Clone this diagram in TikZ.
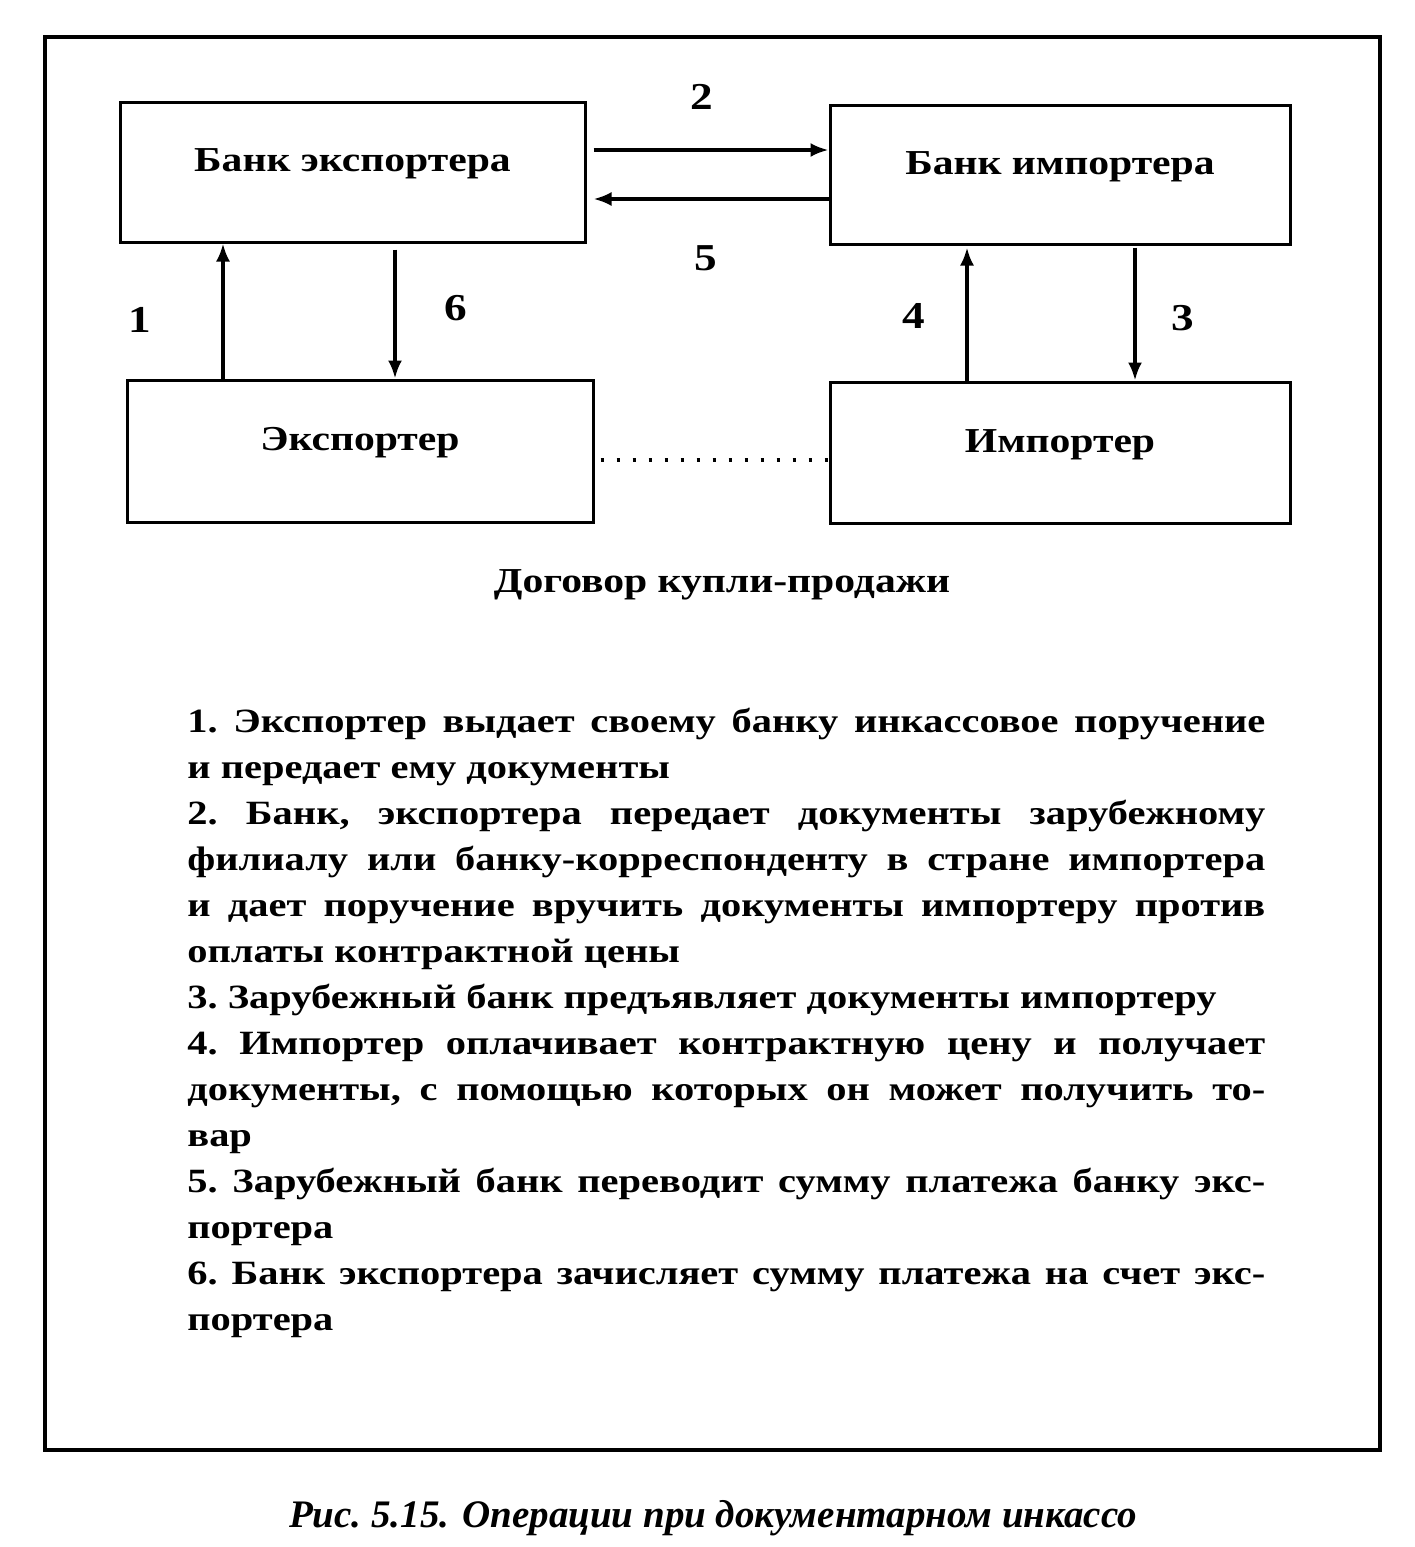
\documentclass[tikz,border=0pt]{standalone}
\usepackage{fontspec}
\setmainfont{Liberation Serif}[FakeStretch=1.19]
\newfontfamily\capfont{Liberation Serif}
\usetikzlibrary{arrows.meta,calc}
\begin{document}
\begin{tikzpicture}[x=0.5pt,y=-0.5pt,
  box/.style={draw, line width=1.5pt, inner sep=0pt},
  lbl/.style={inner sep=0pt, font=\bfseries\fontsize{17.5}{21}\selectfont},
  num/.style={font=\bfseries\fontsize{19}{23}\selectfont},
  arr/.style={line width=1.7pt, -{Latex[length=9pt,width=7pt]}},
  dots/.style={line width=1.6pt, dash pattern=on 1.6pt off 6.4pt}]
\useasboundingbox (0,0) rectangle (1414,1547);
\draw[line width=1.6pt] (45,37) rectangle (1380,1450);
\node[box, minimum width=232.5pt, minimum height=70pt] (be) at (352.5,172) {};
\node[box, minimum width=230pt, minimum height=69.5pt] (bi) at (1060,174.5) {};
\node[box, minimum width=233pt, minimum height=71pt] (ex) at (360,451) {};
\node[box, minimum width=230pt, minimum height=70.5pt] (im) at (1060,452.5) {};
\node[lbl] (lbe) at ([yshift=4pt]be.center) {Банк экспортера};
\node[lbl] (lbi) at ([yshift=4pt]bi.center) {Банк импортера};
\node[lbl] (lex) at ([yshift=4pt]ex.center) {Экспортер};
\node[lbl] (lim) at ([yshift=4pt]im.center) {Импортер};
\draw[arr] ($(be.east|-0,150)+(7,0)$) -- (bi.west|-0,150);
\draw[arr] (bi.west|-0,199) -- ($(be.east|-0,199)+(7,0)$);
\draw[arr] (ex.north-|223,0) -- (be.south-|223,0);
\draw[arr] ($(be.south-|395,0)+(0,6)$) -- (ex.north-|395,0);
\draw[arr] (im.north-|967,0) -- ($(bi.south-|967,0)+(0,2)$);
\draw[arr] ($(bi.south-|1135,0)+(0,2)$) -- (im.north-|1135,0);
\draw[dots] ($(ex.east|-0,460)+(6,0)$) -- (im.west|-0,460);
\node[num] (n2) at (702,97) {2};
\node[num] (n5) at (706,258) {5};
\node[num] (n1) at (140,320) {1};
\node[num] (n6) at (456,308) {6};
\node[num] (n4) at (914,316) {4};
\node[num] (n3) at (1183,318) {3};
\node[font=\bfseries\fontsize{17.5}{21}\selectfont] (dg) at (722,585) {Договор купли-продажи};
\node[anchor=north west, inner sep=0pt, text width=539pt, align=justify,
  font=\bfseries\fontsize{17}{23}\selectfont] (txt) at (187,708) {%
\frenchspacing\setlength{\parskip}{0pt}\setlength{\parindent}{0pt}%
1. Экспортер выдает своему банку инкассовое поручение\linebreak и передает ему документы\par
2. Банк, экспортера передает документы зарубежному\linebreak филиалу или банку-корреспонденту в стране импортера\linebreak и дает поручение вручить документы импортеру против\linebreak оплаты контрактной цены\par
3. Зарубежный банк предъявляет документы импортеру\par
4. Импортер оплачивает контрактную цену и получает\linebreak документы, с помощью которых он может получить то-\linebreak вар\par
5. Зарубежный банк переводит сумму платежа банку экс-\linebreak портера\par
6. Банк экспортера зачисляет сумму платежа на счет экс-\linebreak портера\par};
\node[font=\capfont\bfseries\itshape\fontsize{19.5}{23}\selectfont] (cap) at (713,1518) {Рис.~5.15. Операции при документарном инкассо};
\end{tikzpicture}
\end{document}
